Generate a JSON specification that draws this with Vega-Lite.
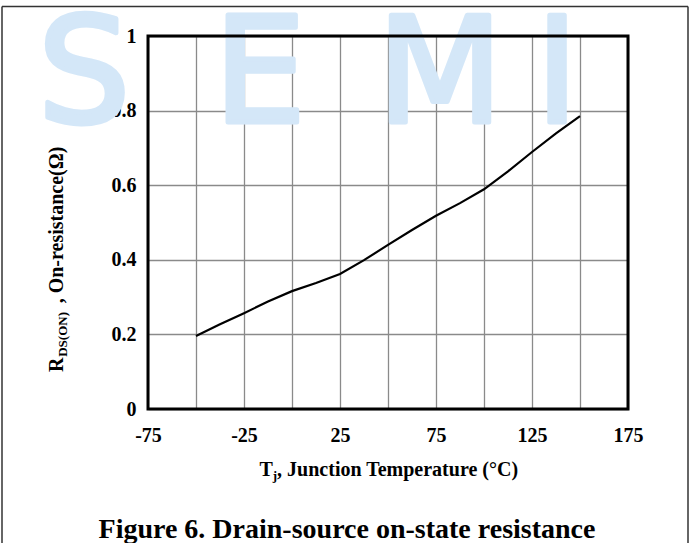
{
  "$schema": "https://vega.github.io/schema/vega-lite/v6.json",
  "width": 480,
  "height": 373,
  "autosize": {"type": "none"},
  "padding": {"left": 148, "top": 36, "right": 66, "bottom": 134},
  "background": "white",
  "config": {
    "view": {"stroke": null},
    "axis": {
      "labelFont": "Liberation Serif",
      "labelFontWeight": "bold",
      "labelFontSize": 20,
      "labelColor": "black",
      "ticks": false,
      "domain": false,
      "gridColor": "#8a8a8a",
      "gridWidth": 1.3,
      "gridOpacity": 1,
      "zindex": 1,
      "labelOverlap": false,
      "labelFlush": false,
      "title": null
    }
  },
  "datasets": {
    "curve": [
      {"tj": -50, "r": 0.196},
      {"tj": -37.5, "r": 0.227},
      {"tj": -25, "r": 0.257},
      {"tj": -12.5, "r": 0.288},
      {"tj": 0, "r": 0.316},
      {"tj": 12.5, "r": 0.338},
      {"tj": 25, "r": 0.362},
      {"tj": 37.5, "r": 0.399},
      {"tj": 50, "r": 0.44},
      {"tj": 62.5, "r": 0.48},
      {"tj": 75, "r": 0.518},
      {"tj": 87.5, "r": 0.552},
      {"tj": 100, "r": 0.589},
      {"tj": 112.5, "r": 0.637},
      {"tj": 125, "r": 0.689},
      {"tj": 137.5, "r": 0.739},
      {"tj": 150, "r": 0.785}
    ],
    "watermark": [
      {"letter": "S", "tj": -108.3, "r": 0.77},
      {"letter": "E", "tj": -16.7, "r": 0.77},
      {"letter": "M", "tj": 77.1, "r": 0.77},
      {"letter": "I", "tj": 138, "r": 0.77}
    ]
  },
  "layer": [
    {
      "data": {"name": "watermark"},
      "mark": {"type": "text", "font": "DejaVu Sans", "fontSize": 146, "color": "#d4e7f8", "stroke": "#d4e7f8", "strokeWidth": 5, "strokeJoin": "round", "align": "center", "baseline": "alphabetic"},
      "encoding": {
        "x": {"field": "tj", "type": "quantitative", "scale": {"domain": [-75, 175], "nice": false, "zero": false},
          "axis": {"values": [-75, -50, -25, 0, 25, 50, 75, 100, 125, 150, 175], "labelPadding": 16,
            "labelExpr": "(datum.value + 75) % 50 == 0 ? '' + datum.value : ''"}},
        "y": {"field": "r", "type": "quantitative", "scale": {"domain": [0, 1], "nice": false, "zero": false},
          "axis": {"values": [0, 0.1, 0.2, 0.3, 0.4, 0.5, 0.6, 0.7, 0.8, 0.9, 1], "labelPadding": 12,
            "labelExpr": "round(datum.value * 10) % 2 == 0 ? format(datum.value, '~g') : ''"}},
        "text": {"field": "letter"}
      }
    },
    {
      "data": {"values": [{}]},
      "mark": {"type": "rule", "color": "#333333", "strokeWidth": 1.5},
      "encoding": {
        "x": {"datum": -151.04, "type": "quantitative"},
        "y": {"datum": 1.0791, "type": "quantitative"},
        "y2": {"datum": -0.3646}
      }
    },
    {
      "data": {"values": [{}]},
      "mark": {"type": "rule", "color": "#333333", "strokeWidth": 1.5},
      "encoding": {
        "x": {"datum": 206.25, "type": "quantitative"},
        "y": {"datum": 1.0791, "type": "quantitative"},
        "y2": {"datum": -0.3646}
      }
    },
    {
      "data": {"values": [{}]},
      "mark": {"type": "rule", "color": "#333333", "strokeWidth": 1.5},
      "encoding": {
        "x": {"datum": -151.04, "type": "quantitative"},
        "x2": {"datum": 206.25},
        "y": {"datum": 1.0791, "type": "quantitative"}
      }
    },
    {
      "data": {"name": "curve"},
      "mark": {"type": "line", "color": "black", "strokeWidth": 2.2},
      "encoding": {
        "x": {"field": "tj", "type": "quantitative"},
        "y": {"field": "r", "type": "quantitative"}
      }
    },
    {
      "data": {"values": [{}]},
      "mark": {"type": "rect", "fill": null, "filled": false, "stroke": "black", "strokeWidth": 3},
      "encoding": {
        "x": {"datum": -75, "type": "quantitative"},
        "x2": {"datum": 175},
        "y": {"datum": 0, "type": "quantitative"},
        "y2": {"datum": 1}
      }
    },
    {
      "data": {"values": [
        {"txt": "T", "tj": -16.93, "r": -0.1796, "size": "big"},
        {"txt": "j", "tj": -10.05, "r": -0.1903, "size": "small"},
        {"txt": ", Junction Temperature (°C)", "tj": -7.76, "r": -0.1796, "size": "big"}
      ]},
      "mark": {"type": "text", "font": "Liberation Serif", "fontWeight": "bold", "align": "left", "baseline": "alphabetic", "color": "black"},
      "encoding": {
        "x": {"field": "tj", "type": "quantitative"},
        "y": {"field": "r", "type": "quantitative"},
        "text": {"field": "txt"},
        "size": {"field": "size", "type": "nominal", "scale": {"domain": ["big", "small"], "range": [20, 13]}, "legend": null}
      }
    },
    {
      "data": {"values": [
        {"txt": "R", "tj": -119.3, "r": 0.0992, "size": "big"},
        {"txt": "DS(ON)", "tj": -117.2, "r": 0.140, "size": "small"},
        {"txt": ", On-resistance(Ω)", "tj": -119.3, "r": 0.2833, "size": "big"}
      ]},
      "mark": {"type": "text", "font": "Liberation Serif", "fontWeight": "bold", "align": "left", "baseline": "alphabetic", "angle": 270, "color": "black"},
      "encoding": {
        "x": {"field": "tj", "type": "quantitative"},
        "y": {"field": "r", "type": "quantitative"},
        "text": {"field": "txt"},
        "size": {"field": "size", "type": "nominal", "scale": {"domain": ["big", "small"], "range": [21, 14]}, "legend": null}
      }
    },
    {
      "data": {"values": [{"txt": "Figure 6. Drain-source on-state resistance", "tj": 28.65, "r": -0.3458}]},
      "mark": {"type": "text", "font": "Liberation Serif", "fontWeight": "bold", "fontSize": 28, "align": "center", "baseline": "alphabetic", "color": "black"},
      "encoding": {
        "x": {"field": "tj", "type": "quantitative"},
        "y": {"field": "r", "type": "quantitative"},
        "text": {"field": "txt"}
      }
    }
  ]
}
